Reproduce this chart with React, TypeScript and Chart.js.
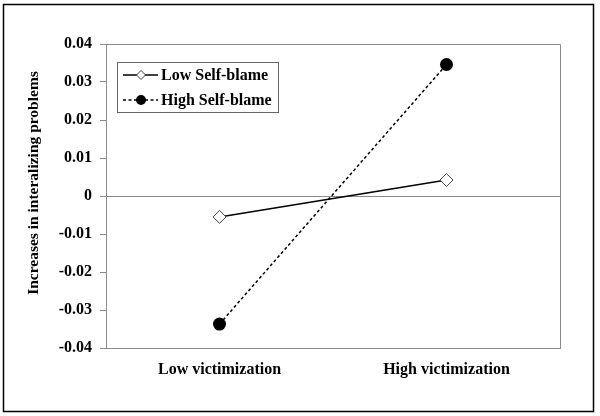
import React, { useEffect, useRef } from "react";
import { Chart, registerables } from "chart.js";

Chart.register(...registerables);

const categories = ["Low victimization", "High victimization"];
const seriesNames = ["Low Self-blame", "High Self-blame"];
const lowSelfBlame = [-0.0055, 0.0042];
const highSelfBlame = [-0.0337, 0.0346];
const yTicks = [-0.04, -0.03, -0.02, -0.01, 0, 0.01, 0.02, 0.03, 0.04];
const yTitle = "Increases in interalizing problems";

const FONT = "'Liberation Serif', 'Times New Roman', serif";
const GRAY = "#8a8a8a";

const framePlugin = {
  id: "frame",
  afterDraw(chart: any) {
    const { ctx, chartArea } = chart;
    ctx.save();
    // plot frame top/right
    ctx.strokeStyle = GRAY;
    ctx.lineWidth = 1;
    ctx.beginPath();
    ctx.moveTo(Math.round(chartArea.left) + 0.5, Math.round(chartArea.top) + 0.5);
    ctx.lineTo(Math.round(chartArea.right) + 0.5, Math.round(chartArea.top) + 0.5);
    ctx.lineTo(Math.round(chartArea.right) + 0.5, Math.round(chartArea.bottom) + 0.5);
    ctx.stroke();
    // outer border
    ctx.strokeStyle = "#000";
    ctx.lineWidth = 1.5;
    ctx.strokeRect(3.5, 4.5, 590, 407);
    // y title
    ctx.fillStyle = "#000";
    ctx.font = `bold 15.5px ${FONT}`;
    ctx.textAlign = "center";
    ctx.textBaseline = "middle";
    ctx.translate(34, 183);
    ctx.rotate(-Math.PI / 2);
    ctx.fillText(yTitle, 0, 0);
    ctx.restore();

    // legend
    ctx.save();
    const bx = 117.5, by = 62.5, bw = 161, bh = 50;
    ctx.fillStyle = "#fff";
    ctx.fillRect(bx, by, bw, bh);
    ctx.strokeStyle = "#666";
    ctx.lineWidth = 1;
    ctx.strokeRect(bx, by, bw, bh);
    const rows = [75, 100];
    chart.data.datasets.forEach((ds: any, i: number) => {
      const y = rows[i];
      ctx.strokeStyle = "#000";
      ctx.lineWidth = 1.5;
      ctx.setLineDash(i === 0 ? [] : [3, 2.5]);
      ctx.beginPath();
      ctx.moveTo(123, y);
      ctx.lineTo(158, y);
      ctx.stroke();
      ctx.setLineDash([]);
      ctx.beginPath();
      if (i === 0) {
        const r = 4.5;
        ctx.moveTo(141, y - r);
        ctx.lineTo(141 + r, y);
        ctx.lineTo(141, y + r);
        ctx.lineTo(141 - r, y);
        ctx.closePath();
        ctx.fillStyle = "#fff";
        ctx.fill();
        ctx.lineWidth = 1;
        ctx.strokeStyle = "#444";
        ctx.stroke();
      } else {
        ctx.arc(141, y, 5, 0, Math.PI * 2);
        ctx.fillStyle = "#000";
        ctx.fill();
      }
      ctx.fillStyle = "#000";
      ctx.font = `bold 16px ${FONT}`;
      ctx.textAlign = "left";
      ctx.textBaseline = "middle";
      ctx.fillText(ds.label, 161, y + 1);
    });
    ctx.restore();
  },
};

export default function App() {
  const ref = useRef<HTMLCanvasElement | null>(null);
  useEffect(() => {
    if (!ref.current) return;
    const chart = new Chart(ref.current, {
      type: "line",
      data: {
        labels: categories,
        datasets: [
          {
            label: seriesNames[0],
            data: lowSelfBlame,
            borderColor: "#000",
            borderWidth: 1.5,
            pointStyle: "rectRot",
            pointRadius: 6.5,
            pointBackgroundColor: "#fff",
            pointBorderColor: "#444",
            pointBorderWidth: 1,
            fill: false,
            tension: 0,
          },
          {
            label: seriesNames[1],
            data: highSelfBlame,
            borderColor: "#000",
            borderWidth: 1.5,
            borderDash: [3, 2.5],
            pointStyle: "circle",
            pointRadius: 6.5,
            pointBackgroundColor: "#000",
            pointBorderColor: "#000",
            pointBorderWidth: 0,
            fill: false,
            tension: 0,
          },
        ],
      },
      options: {
        responsive: false,
        animation: false,
        devicePixelRatio: 1,
        layout: { padding: { left: 0, top: 44, right: 40, bottom: 0 } },
        plugins: { legend: { display: false }, tooltip: { enabled: false } },
        scales: {
          x: {
            type: "category",
            offset: true,
            grid: { display: false, drawTicks: false },
            border: { display: true, color: GRAY, width: 1 },
            ticks: {
              color: "#000",
              font: { family: FONT, size: 16, weight: "bold" },
              padding: 12,
              maxRotation: 0,
            },
            afterFit(scale: any) {
              scale.height = 68;
            },
          },
          y: {
            min: -0.04,
            max: 0.04,
            afterBuildTicks(scale: any) {
              scale.ticks = yTicks.map((v) => ({ value: v }));
            },
            grid: {
              color: (c: any) => (c.tick && Math.abs(c.tick.value) < 1e-9 ? GRAY : "rgba(0,0,0,0)"),
              tickColor: GRAY,
              tickLength: 6,
              lineWidth: 1,
              drawOnChartArea: true,
            },
            border: { display: true, color: GRAY, width: 1 },
            ticks: {
              color: "#000",
              font: { family: FONT, size: 16, weight: "bold" },
              padding: 8,
              callback: (v: any) => (Math.abs(Number(v)) < 1e-9 ? "0" : Number(v).toFixed(2)),
            },
            afterFit(scale: any) {
              scale.width = 106;
            },
          },
        },
      },
      plugins: [framePlugin],
    });
    return () => chart.destroy();
  }, []);
  return (
    <div style={{ position: "fixed", left: 0, top: 0, width: 600, height: 416, background: "#fff" }}>
      <canvas ref={ref} width={600} height={416} style={{ width: 600, height: 416, display: "block" }} />
    </div>
  );
}
